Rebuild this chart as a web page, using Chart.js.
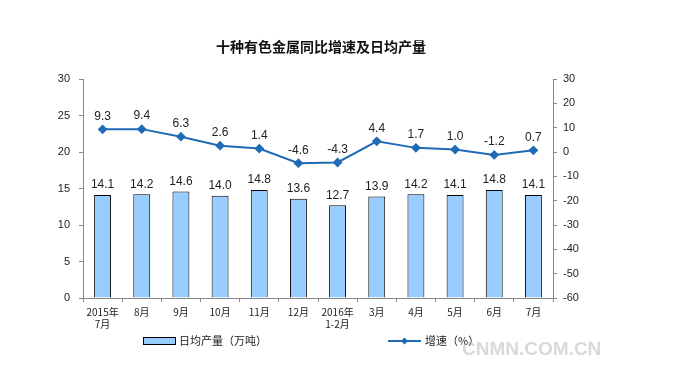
<!DOCTYPE html>
<html>
<head>
<meta charset="utf-8">
<script src="https://cdn.jsdelivr.net/npm/chart.js@4.4.1/dist/chart.umd.min.js"></script>
<style>
  html, body { margin: 0; padding: 0; background: #fff; }
  canvas { display: block; }
</style>
</head>
<body>
<canvas id="metalChart" width="678" height="386"></canvas>
<script>
const months = [['2015年', '7月'], '8月', '9月', '10月', '11月', '12月', ['2016年', '1-2月'], '3月', '4月', '5月', '6月', '7月'];
const dailyOutput = [14.1, 14.2, 14.6, 14.0, 14.8, 13.6, 12.7, 13.9, 14.2, 14.1, 14.8, 14.1];
const growthRate = [9.3, 9.4, 6.3, 2.6, 1.4, -4.6, -4.3, 4.4, 1.7, 1.0, -1.2, 0.7];
const leftTicks = [0, 5, 10, 15, 20, 25, 30];
const rightTicks = [-60, -50, -40, -30, -20, -10, 0, 10, 20, 30];

const barColor = '#99CCFF';
const lineColor = '#1F6BB5';
const textFont = '"Liberation Sans", Arial, sans-serif';
const cjkFont = '"Noto Sans CJK SC", sans-serif';

// value labels above bars and points, plus title / legend / watermark
const extrasPlugin = {
  id: 'extras',
  afterDatasetsDraw(chart) {
    const ctx = chart.ctx;
    ctx.save();
    ctx.fillStyle = '#222';
    ctx.font = '12px ' + textFont;
    ctx.textAlign = 'center';
    ctx.textBaseline = 'bottom';
    // dataset 0 = line, dataset 1 = bars
    chart.getDatasetMeta(1).data.forEach((bar, i) => {
      ctx.fillText(dailyOutput[i].toFixed(1), bar.x, bar.y - 4);
    });
    chart.getDatasetMeta(0).data.forEach((pt, i) => {
      ctx.fillText(growthRate[i].toFixed(1), pt.x, pt.y - 7);
    });
    ctx.restore();
  },
  afterDraw(chart) {
    const ctx = chart.ctx;
    ctx.save();
    // title
    ctx.fillStyle = '#111';
    ctx.font = 'bold 14px ' + cjkFont;
    ctx.textAlign = 'center';
    ctx.textBaseline = 'middle';
    ctx.fillText('十种有色金属同比增速及日均产量', 321, 47);

    // legend
    ctx.font = '11px ' + cjkFont;
    ctx.textAlign = 'left';
    ctx.fillStyle = barColor;
    ctx.fillRect(143, 337, 32, 7);
    ctx.strokeStyle = '#000';
    ctx.lineWidth = 1;
    ctx.strokeRect(143.5, 337.5, 32, 7);
    ctx.fillStyle = '#222';
    ctx.fillText('日均产量（万吨）', 179, 341);

    ctx.strokeStyle = lineColor;
    ctx.lineWidth = 2;
    ctx.beginPath();
    ctx.moveTo(388, 341);
    ctx.lineTo(421, 341);
    ctx.stroke();
    ctx.fillStyle = lineColor;
    ctx.beginPath();
    ctx.moveTo(404.5, 337.5);
    ctx.lineTo(408, 341);
    ctx.lineTo(404.5, 344.5);
    ctx.lineTo(401, 341);
    ctx.closePath();
    ctx.fill();
    ctx.fillStyle = '#222';
    ctx.fillText('增速（%）', 425, 341);

    // watermark
    ctx.fillStyle = 'rgba(180,180,180,0.5)';
    ctx.font = 'bold 19px ' + textFont;
    ctx.textAlign = 'left';
    ctx.fillText('CNMN.COM.CN', 462, 350);
    ctx.restore();
  }
};

const ctx = document.getElementById('metalChart').getContext('2d');

new Chart(ctx, {
  data: {
    labels: months,
    datasets: [
      {
        type: 'line',
        label: '增速（%）',
        data: growthRate,
        yAxisID: 'yRight',
        borderColor: lineColor,
        backgroundColor: lineColor,
        borderWidth: 2,
        pointStyle: 'rectRot',
        pointRadius: 3.5,
        pointHoverRadius: 3.5,
        tension: 0,
        order: 0
      },
      {
        type: 'bar',
        label: '日均产量（万吨）',
        data: dailyOutput,
        yAxisID: 'yLeft',
        backgroundColor: barColor,
        borderColor: '#000',
        borderWidth: 1,
        categoryPercentage: 0.9,
        barPercentage: 0.48,
        order: 1
      }
    ]
  },
  plugins: [extrasPlugin],
  options: {
    responsive: false,
    animation: false,
    layout: { padding: { top: 79, left: 0, right: 0, bottom: 0 } },
    plugins: {
      legend: { display: false },
      title: { display: false },
      tooltip: { enabled: false }
    },
    scales: {
      x: {
        offset: true,
        grid: { display: true, offset: true, drawOnChartArea: false, drawTicks: true, tickLength: 4, color: '#888' },
        border: { color: '#888' },
        ticks: {
          color: '#222',
          font: { family: cjkFont, size: 10 },
          padding: 4,
          maxRotation: 0,
          autoSkip: false
        },
        afterFit(scale) { scale.height = 88; }
      },
      yLeft: {
        position: 'left',
        min: 0,
        max: 30,
        afterBuildTicks(scale) { scale.ticks = leftTicks.map(v => ({ value: v })); },
        grid: { drawOnChartArea: false, tickLength: 4, color: '#888' },
        border: { color: '#888' },
        ticks: { color: '#222', font: { family: textFont, size: 11 }, padding: 9 },
        afterFit(scale) { scale.width = 83; }
      },
      yRight: {
        position: 'right',
        min: -60,
        max: 30,
        afterBuildTicks(scale) { scale.ticks = rightTicks.map(v => ({ value: v })); },
        grid: { drawOnChartArea: false, tickLength: 4, color: '#888' },
        border: { color: '#888' },
        ticks: { color: '#222', font: { family: textFont, size: 11 }, padding: 6 },
        afterFit(scale) { scale.width = 125; }
      }
    }
  }
});
</script>
</body>
</html>
